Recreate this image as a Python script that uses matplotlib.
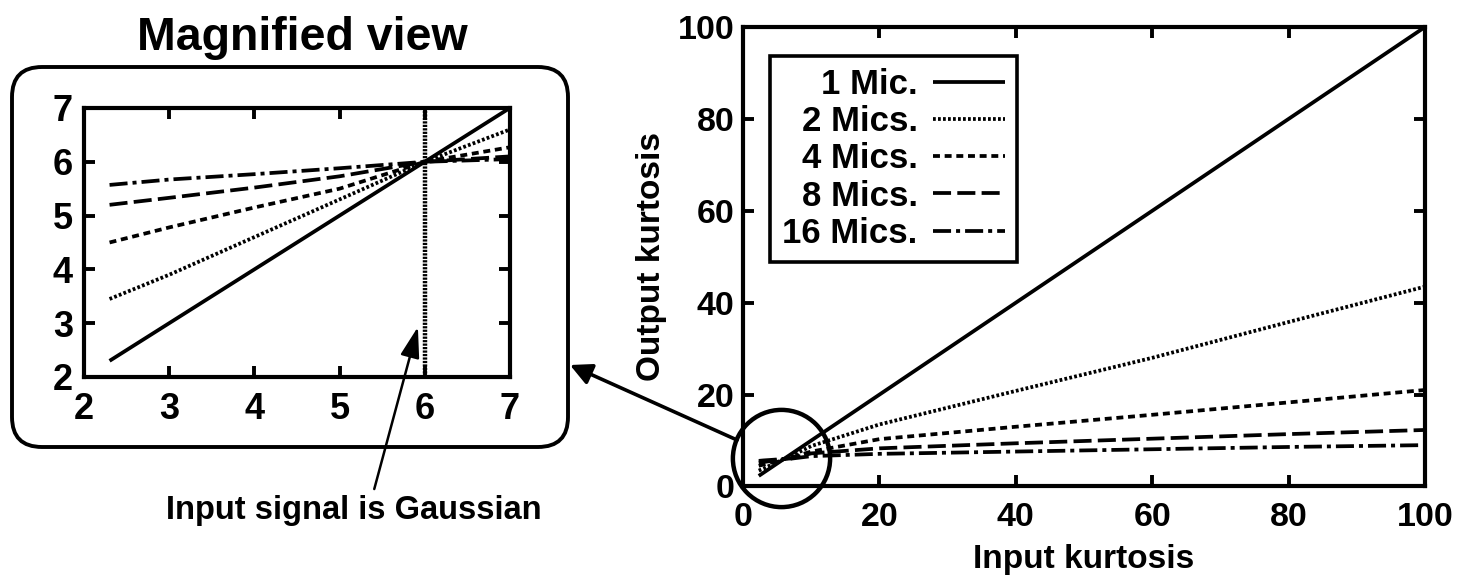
import numpy as np
import matplotlib
matplotlib.use('Agg')
import matplotlib.pyplot as plt
from matplotlib.patches import FancyBboxPatch, FancyArrowPatch

plt.rcParams['font.family'] = ['Liberation Sans', 'DejaVu Sans']
plt.rcParams['font.weight'] = 'bold'
plt.rcParams['axes.labelweight'] = 'bold'
plt.rcParams['lines.scale_dashes'] = False

# values (input kurtosis -> output kurtosis)
input_kurt = [2.3, 3, 4, 5, 6, 7, 10, 20, 40, 60, 80, 100]
mic1 = [2.3, 3, 4, 5, 6, 7, 10, 20, 40, 60, 80, 100]
mic2 = [3.45, 3.9, 4.6, 5.3, 6.0, 6.6, 8.8, 13.5, 20.8, 28.0, 35.8, 43.5]
mic4 = [4.5, 4.78, 5.15, 5.5, 6.0, 6.27, 7.6, 10.3, 13.0, 15.6, 18.3, 21.0]
mic8 = [5.2, 5.33, 5.52, 5.73, 6.0, 6.1, 7.2, 8.3, 9.4, 10.4, 11.4, 12.3]
mic16 = [5.57, 5.67, 5.77, 5.88, 6.0, 6.05, 6.6, 7.1, 7.6, 8.1, 8.6, 9.0]

labels = ['1 Mic.', '2 Mics.', '4 Mics.', '8 Mics.', '16 Mics.']
series = [mic1, mic2, mic4, mic8, mic16]
dashes = [None, (2.0, 1.6), (5, 3.4), (13, 4.5), (13, 3.6, 2.9, 3.6)]

main_ticks = [0, 20, 40, 60, 80, 100]
zoom_ticks = [2, 3, 4, 5, 6, 7]
gauss_kurt = 6

LW = 2.7


def style_axes(ax, size, xpad, ypad):
    for s in ax.spines.values():
        s.set_linewidth(3.0)
    ax.tick_params(direction='in', length=8, width=2.8, top=True, right=True,
                   labelsize=size)
    ax.tick_params(axis='x', pad=xpad)
    ax.tick_params(axis='y', pad=ypad)


def draw_lines(ax):
    hs = []
    for y, lab, d in zip(series, labels, dashes):
        line, = ax.plot(input_kurt, y, color='k', lw=LW, label=lab,
                        solid_capstyle='butt', dash_capstyle='butt')
        if d is not None:
            line.set_dashes(d)
        hs.append(line)
    return hs


fig = plt.figure(figsize=(14.61, 5.79), dpi=100)

# main plot
ax = fig.add_axes([0.5086, 0.1598, 0.4668, 0.7936])
draw_lines(ax)
ax.set_xlim(0, 100)
ax.set_ylim(0, 100)
ax.set_xticks(main_ticks)
ax.set_yticks(main_ticks)
style_axes(ax, 24.5, 11, 6)
ax.set_xlabel('Input kurtosis', fontsize=24, labelpad=8)
ax.set_ylabel('Output kurtosis', fontsize=24, labelpad=8)

leg = ax.legend(loc='upper left', bbox_to_anchor=(0.04, 0.937), fontsize=25,
                markerfirst=False, handlelength=2.05, handletextpad=0.45,
                labelspacing=0.12, borderpad=0.35, fancybox=False,
                edgecolor='k', framealpha=1, borderaxespad=0)
leg.get_frame().set_linewidth(2.6)
for col in leg._legend_handle_box.get_children():
    col.align = 'right'

# circle marking the zoomed region
ax.plot(5.6, 6.3, marker='o', ms=70, mfc='none', mec='k', mew=3.2, clip_on=False)

# inset (magnified view)
axi = fig.add_axes([0.0575, 0.3489, 0.2915, 0.4646])
draw_lines(axi)
axi.axvline(gauss_kurt, color='k', lw=3.2, dashes=(1.6, 0.9))
axi.set_xlim(2, 7)
axi.set_ylim(2, 7)
axi.set_xticks(zoom_ticks)
axi.set_yticks(zoom_ticks)
style_axes(axi, 26, 11, 8)

box = FancyBboxPatch((0.12, 1.32), 5.56, 3.80,
                     boxstyle='round,pad=0,rounding_size=0.3',
                     transform=fig.dpi_scale_trans, fill=False, ec='k', lw=2.8)
fig.patches.append(box)
fig.text(0.2067, 0.935, 'Magnified view', fontsize=33.5, ha='center', va='center')

# arrow from circle to the magnified box
fig.add_artist(FancyArrowPatch(
    (737 / 1461, 1 - 440 / 579), (570 / 1461, 1 - 365 / 579),
    transform=fig.transFigure, arrowstyle='-|>,head_length=13,head_width=6.5',
    color='k', lw=2.6, shrinkA=0, shrinkB=0))

axi.annotate('Input signal is Gaussian', xy=(5.92, 2.93),
             xytext=(354, 69), textcoords='figure pixels',
             fontsize=23.5, ha='center', va='center', annotation_clip=False,
             arrowprops=dict(arrowstyle='-|>,head_length=0.8,head_width=0.25',
                             color='k', lw=1.8, shrinkA=2, shrinkB=0,
                             relpos=(0.55, 1.0)))

fig.savefig('out.png', dpi=100)
